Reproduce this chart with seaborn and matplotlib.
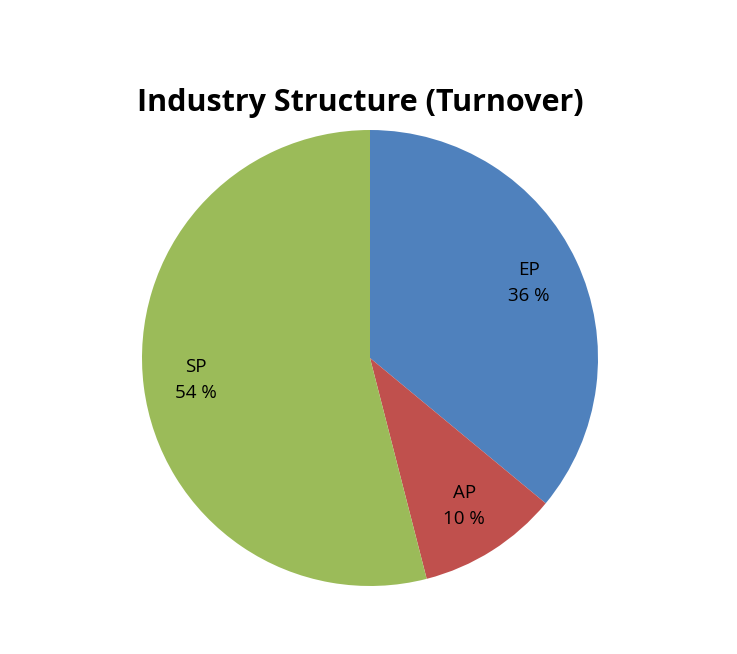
import matplotlib
matplotlib.use("Agg")
import matplotlib.pyplot as plt
import seaborn as sns

sns.set_style("white")
plt.rcParams["font.family"] = ["Open Sans", "DejaVu Sans"]

segments = ["EP", "AP", "SP"]
shares = [36, 10, 54]
colors = ["#4F81BD", "#C0504D", "#9BBB59"]

labels = [f"{s}\n{v} %" for s, v in zip(segments, shares)]

fig = plt.figure(figsize=(7.37, 6.54), dpi=100)
ax = fig.add_axes([(370 - 228) / 737, (654 - 358 - 228) / 654, 456 / 737, 456 / 654])
ax.pie(shares, labels=labels, colors=colors, startangle=90, counterclock=False,
       labeldistance=0.77, wedgeprops={"linewidth": 0},
       textprops={"fontsize": 13.5, "ha": "center", "va": "center",
                  "linespacing": 1.6, "color": "black"})
ax.set_xlim(-1, 1)
ax.set_ylim(-1, 1)
ax.set_aspect("equal")
fig.text(360 / 737, 1 - 103 / 654, "Industry Structure (Turnover)", ha="center", va="center",
         fontsize=22, fontweight="bold", color="black")
fig.savefig("out.png", dpi=100)
